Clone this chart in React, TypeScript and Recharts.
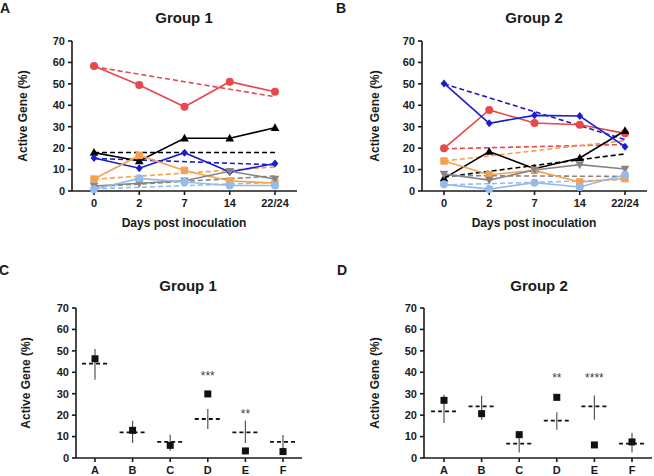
import { ComposedChart, ErrorBar, Line, Scatter, XAxis, YAxis } from "recharts";

const days = ["0", "2", "7", "14", "22/24"];
const groups = ["A", "B", "C", "D", "E", "F"];
const yTicks = [0, 10, 20, 30, 40, 50, 60, 70];

// Group 1 time courses (%). Trend lines only carry their two end points.
const g1Red = [58.3, 49.5, 39.3, 51, 46.3];
const g1RedFit = [58, null, null, null, 44];
const g1Black = [17.9, 14, 24.6, 24.6, 29.5];
const g1BlackFit = [18, null, null, null, 18];
const g1Blue = [15.4, 10.6, 17.9, 8.9, 12.8];
const g1BlueFit = [15.2, null, null, null, 12.2];
const g1Orange = [5.6, 16.6, 9.6, 4.7, 3.7];
const g1OrangeFit = [5.5, null, null, null, 11.2];
const g1Gray = [2.3, 3.6, 4.8, 9.2, 5.6];
const g1GrayFit = [2, null, null, null, 7];
const g1Light = [0.8, 5.9, 4.2, 2.6, 2.6];
const g1LightFit = [1, null, null, null, 4];

// Group 2 time courses (%)
const g2Red = [19.9, 37.8, 31.7, 30.9, 26.9];
const g2RedFit = [19.7, null, null, null, 21.7];
const g2Black = [5.9, 18.4, 10.4, 15.4, 28.1];
const g2BlackFit = [6.5, null, null, null, 17.3];
const g2Blue = [50.2, 31.6, 35.3, 35, 20.7];
const g2BlueFit = [50, null, null, null, 24];
const g2Orange = [14, 7.6, 9.6, 4.2, 5.8];
const g2OrangeFit = [14, null, null, null, 23.5];
const g2Gray = [7.9, 5.1, 9.8, 12.3, 10.3];
const g2GrayFit = [7.2, null, null, null, 6.8];
const g2Light = [3.1, 0.9, 3.9, 1.9, 7.6];
const g2LightFit = [2.8, null, null, null, 5.3];

// Summary panels: observed value, mean with range, significance
const c1Obs = [46.3, 12.9, 5.9, 29.9, 3.3, 3.0];
const c1Mean = [44, 12, 7.5, 18.2, 12, 7.5];
const c1Low = [36.5, 7, 3.4, 13.5, 7, 3.4];
const c1High = [50.9, 17.4, 10.9, 22.9, 17.4, 10.7];
const c1Sig = ["", "", "", "***", "**", ""];
const c1SigAt = [null, null, null, 38.7, 21, null];

const c2Obs = [26.9, 20.7, 10.9, 28.3, 6.1, 7.5];
const c2Mean = [21.8, 24.1, 6.7, 17.4, 24.1, 6.7];
const c2Low = [16.3, 17.9, 2.6, 13.2, 17.9, 2.6];
const c2High = [29.5, 29.1, 11, 21.3, 29.2, 11.7];
const c2Sig = ["", "", "", "**", "****", ""];
const c2SigAt = [null, null, null, 37.6, 37.6, null];

const SERIES = [
  { key: "red", color: "#e8474c", marker: "circle" },
  { key: "black", color: "#000000", marker: "triangle" },
  { key: "blue", color: "#1c1ccf", marker: "diamond" },
  { key: "orange", color: "#f6a04d", marker: "square" },
  { key: "gray", color: "#858585", marker: "down" },
  { key: "light", color: "#93bcec", marker: "circle" },
];

const INK = "#1a1a1a";
const FONT = "'Liberation Sans', Arial, sans-serif";

function timeRows(cols: Record<string, (number | null)[]>) {
  return days.map((day, i) => {
    const row: Record<string, any> = { day };
    for (const k of Object.keys(cols)) row[k] = cols[k][i];
    return row;
  });
}

const g1Rows = timeRows({
  red: g1Red, redFit: g1RedFit, black: g1Black, blackFit: g1BlackFit,
  blue: g1Blue, blueFit: g1BlueFit, orange: g1Orange, orangeFit: g1OrangeFit,
  gray: g1Gray, grayFit: g1GrayFit, light: g1Light, lightFit: g1LightFit,
});
const g2Rows = timeRows({
  red: g2Red, redFit: g2RedFit, black: g2Black, blackFit: g2BlackFit,
  blue: g2Blue, blueFit: g2BlueFit, orange: g2Orange, orangeFit: g2OrangeFit,
  gray: g2Gray, grayFit: g2GrayFit, light: g2Light, lightFit: g2LightFit,
});

function summaryRows(obs: number[], mean: number[], low: number[], high: number[], sig: string[], sigAt: (number | null)[]) {
  return groups.map((grp, i) => ({
    grp,
    obs: obs[i],
    mean: mean[i],
    err: [mean[i] - low[i], high[i] - mean[i]],
    sig: sig[i],
    sigAt: sigAt[i],
  }));
}

const c1Rows = summaryRows(c1Obs, c1Mean, c1Low, c1High, c1Sig, c1SigAt);
const c2Rows = summaryRows(c2Obs, c2Mean, c2Low, c2High, c2Sig, c2SigAt);

function Marker({ cx, cy, kind, color }: { cx?: number; cy?: number; kind: string; color: string }) {
  if (cx == null || cy == null || Number.isNaN(cy)) return null;
  if (kind === "square") return <rect x={cx - 3.7} y={cy - 3.7} width={7.4} height={7.4} fill={color} />;
  if (kind === "triangle")
    return <path d={`M${cx},${cy - 4.6}L${cx + 4.3},${cy + 3.2}L${cx - 4.3},${cy + 3.2}Z`} fill={color} />;
  if (kind === "down")
    return <path d={`M${cx},${cy + 4.6}L${cx + 4.3},${cy - 3.2}L${cx - 4.3},${cy - 3.2}Z`} fill={color} />;
  if (kind === "diamond")
    return <path d={`M${cx},${cy - 4}L${cx + 3.4},${cy}L${cx},${cy + 4}L${cx - 3.4},${cy}Z`} fill={color} />;
  return <circle cx={cx} cy={cy} r={4} fill={color} />;
}

function Txt({ x, y, size, children, rotate = false, weight = 700 }: any) {
  return (
    <div
      style={{
        position: "absolute",
        left: x - 150,
        top: y - 15,
        width: 300,
        height: 30,
        lineHeight: "30px",
        textAlign: "center",
        fontSize: size,
        fontWeight: weight,
        color: INK,
        whiteSpace: "nowrap",
        transform: rotate ? "rotate(-90deg)" : undefined,
      }}
    >
      {children}
    </div>
  );
}

const tickStyle = { fill: INK, fontSize: 11, fontWeight: 700 };
const axisStroke = { stroke: INK, strokeWidth: 1.6 };

function TimePanel({ rows, yw, right }: { rows: any[]; yw: number; right: number }) {
  return (
    <ComposedChart width={327} height={238} data={rows} margin={{ top: 41, right, bottom: 17, left: 0 }}>
      <XAxis
        dataKey="day"
        scale="point"
        padding={{ left: 22, right: 22 }}
        height={30}
        interval={0}
        tick={tickStyle}
        tickSize={4}
        tickMargin={4}
        axisLine={axisStroke}
        tickLine={axisStroke}
      />
      <YAxis
        domain={[0, 70]}
        ticks={yTicks}
        interval={0}
        width={yw}
        tick={tickStyle}
        tickSize={4}
        tickMargin={3}
        axisLine={axisStroke}
        tickLine={axisStroke}
      />
      {SERIES.map((s) => (
        <Line
          key={s.key + "Fit"}
          dataKey={s.key + "Fit"}
          stroke={s.color}
          strokeWidth={1.6}
          strokeDasharray="5 3"
          dot={false}
          activeDot={false}
          connectNulls
          isAnimationActive={false}
        />
      ))}
      {SERIES.map((s) => (
        <Line
          key={s.key}
          dataKey={s.key}
          stroke={s.color}
          strokeWidth={1.6}
          dot={(p: any) => <Marker key={p.index} cx={p.cx} cy={p.cy} kind={s.marker} color={s.color} />}
          activeDot={false}
          isAnimationActive={false}
        />
      ))}
    </ComposedChart>
  );
}

const MeanMark = (p: any) =>
  p.cx == null ? <g /> : (
    <line x1={p.cx - 13} x2={p.cx + 13} y1={p.cy} y2={p.cy} stroke="#111" strokeWidth={1.8} strokeDasharray="4 3" />
  );
const ObsMark = (p: any) => (p.cx == null ? <g /> : <rect x={p.cx - 3.5} y={p.cy - 3.5} width={7} height={7} fill="#111" />);
const StarMark = (p: any) =>
  !p.payload || !p.payload.sig ? <g /> : (
    <text x={p.cx} y={p.cy + 5} textAnchor="middle" fontSize={12} fill="#444">
      {p.payload.sig}
    </text>
  );

function SummaryPanel({ rows, yw, right, pad }: { rows: any[]; yw: number; right: number; pad: number }) {
  return (
    <ComposedChart width={327} height={238} data={rows} margin={{ top: 70, right, bottom: 0, left: 0 }}>
      <XAxis
        dataKey="grp"
        scale="point"
        padding={{ left: pad, right: pad }}
        height={18}
        interval={0}
        tick={tickStyle}
        tickSize={4}
        tickMargin={4}
        axisLine={axisStroke}
        tickLine={axisStroke}
      />
      <YAxis
        domain={[0, 70]}
        ticks={yTicks}
        interval={0}
        width={yw}
        tick={tickStyle}
        tickSize={4}
        tickMargin={3}
        axisLine={axisStroke}
        tickLine={axisStroke}
      />
      <Scatter dataKey="mean" shape={MeanMark} isAnimationActive={false}>
        <ErrorBar dataKey="err" direction="y" width={0} stroke="#555" strokeWidth={1.2} isAnimationActive={false} />
      </Scatter>
      <Scatter dataKey="obs" shape={ObsMark} isAnimationActive={false} />
      <Scatter dataKey="sigAt" shape={StarMark} isAnimationActive={false} />
    </ComposedChart>
  );
}

export default function App() {
  return (
    <div
      style={{
        position: "absolute",
        left: 0,
        top: 0,
        width: 654,
        height: 476,
        background: "#fff",
        fontFamily: FONT,
        overflow: "hidden",
      }}
    >
      <div style={{ position: "absolute", left: 0, top: 0 }}>
        <TimePanel rows={g1Rows} yw={72} right={30} />
      </div>
      <div style={{ position: "absolute", left: 327, top: 0 }}>
        <TimePanel rows={g2Rows} yw={95} right={7} />
      </div>
      <div style={{ position: "absolute", left: 0, top: 238 }}>
        <SummaryPanel rows={c1Rows} yw={76} right={25} pad={19} />
      </div>
      <div style={{ position: "absolute", left: 327, top: 238 }}>
        <SummaryPanel rows={c2Rows} yw={97} right={2} pad={20} />
      </div>

      <Txt x={5} y={8} size={14}>A</Txt>
      <Txt x={341} y={8} size={14}>B</Txt>
      <Txt x={4} y={270} size={14}>C</Txt>
      <Txt x={342} y={270} size={14}>D</Txt>

      <Txt x={184} y={18} size={15}>Group 1</Txt>
      <Txt x={534} y={18} size={15}>Group 2</Txt>
      <Txt x={188} y={286} size={15}>Group 1</Txt>
      <Txt x={539} y={286} size={15}>Group 2</Txt>

      <Txt x={184} y={223} size={12}>Days post inoculation</Txt>
      <Txt x={534} y={223} size={12}>Days post inoculation</Txt>

      <Txt x={23} y={116} size={12} rotate>Active Gene (%)</Txt>
      <Txt x={375} y={116} size={12} rotate>Active Gene (%)</Txt>
      <Txt x={26} y={383} size={12} rotate>Active Gene (%)</Txt>
      <Txt x={375} y={383} size={12} rotate>Active Gene (%)</Txt>
    </div>
  );
}
